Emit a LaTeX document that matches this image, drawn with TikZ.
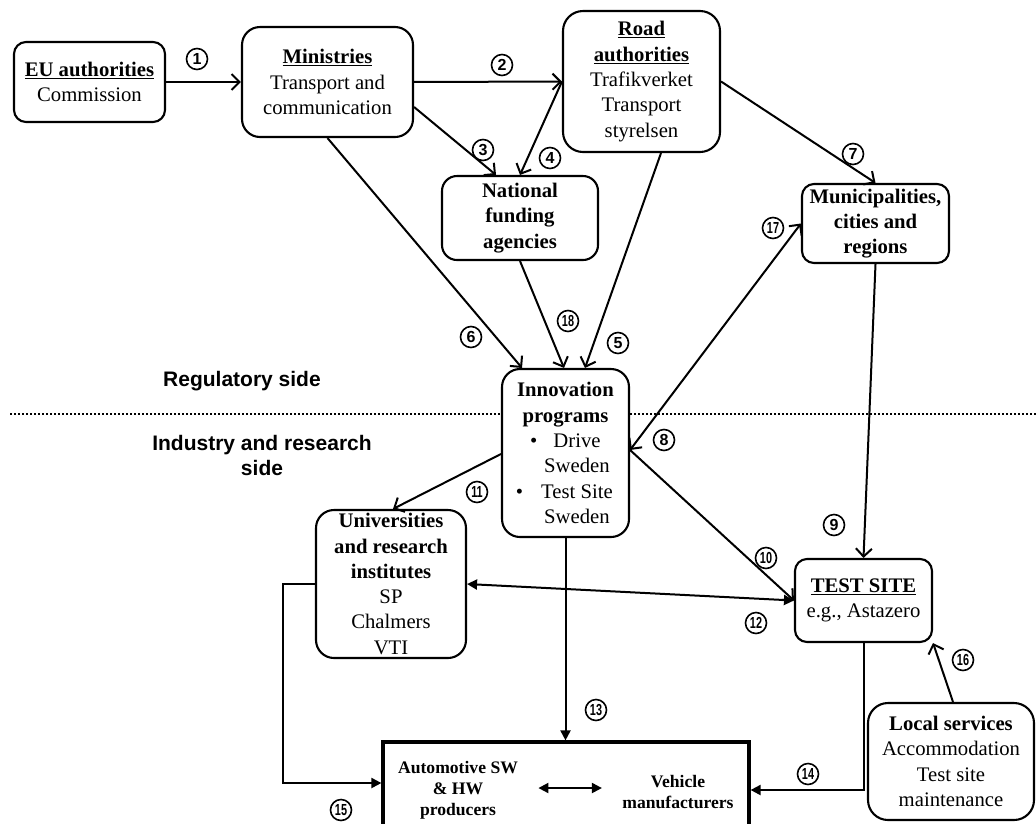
\documentclass[tikz,border=0pt]{standalone}
\usepackage{fontspec}
\usepackage{graphicx}
\setmainfont{Liberation Serif}
\setsansfont{Liberation Sans}
\usetikzlibrary{arrows.meta}
\begin{document}
\begin{tikzpicture}[x=1pt,y=-1pt,
  box/.style={draw, line width=2.1pt, rounded corners=16pt, fill=white, align=center, inner sep=0pt,
    font=\fontsize{20.7}{25.3}\selectfont},
  arr/.style={line width=2pt, -{Straight Barb[length=8pt,width=16pt]}},
  darr/.style={line width=2pt, {Straight Barb[length=8pt,width=16pt]}-{Straight Barb[length=8pt,width=16pt]}},
  farr/.style={line width=2pt, -{Triangle[length=10pt,width=10pt]}},
  dfarr/.style={line width=2pt, {Triangle[length=10pt,width=10pt]}-{Triangle[length=10pt,width=10pt]}},
  num/.style={draw, circle, line width=1.6pt, minimum size=21pt, inner sep=0pt,
    font=\sffamily\bfseries\fontsize{16}{16}\selectfont},
  side/.style={font=\sffamily\bfseries\fontsize{21}{25}\selectfont, align=center},
  small/.style={font=\bfseries\fontsize{17.6}{21}\selectfont, align=center}
]
\useasboundingbox (0,0) rectangle (1036,823);
\clip (0,0) rectangle (1036,823);

% separator
\draw[line width=1.8pt, dash pattern=on 1.6pt off 2.4pt] (10,414) -- (1036,414);
\node[side] (reg) at (242,381) {Regulatory side};
\node[side] (ind) at (262,455) {Industry and research\\side};

% nodes
\node[box, rounded corners=12pt, minimum width=151pt, minimum height=80pt] (eu) at (89.5,82)
  {\textbf{\underline{EU authorities}}\\Commission};
\node[box, rounded corners=18pt, minimum width=171pt, minimum height=110pt] (min) at (327.5,82)
  {\textbf{\underline{Ministries}}\\Transport and\\communication};
\node[box, rounded corners=20pt, minimum width=157pt, minimum height=141pt] (road) at (641.5,81.5)
  {\textbf{\underline{Road}}\\\textbf{\underline{authorities}}\\Trafikverket\\Transport\\styrelsen};
\node[box, rounded corners=15pt, minimum width=156pt, minimum height=84pt] (nf) at (520,218)
  {\textbf{National}\\\textbf{funding}\\\textbf{agencies}};
\node[box, rounded corners=12pt, minimum width=147pt, minimum height=79pt] (mun) at (875.5,223.5)
  {\textbf{Municipalities,}\\\textbf{cities and}\\\textbf{regions}};
\node[box, rounded corners=18pt, minimum width=127pt, minimum height=168pt] (inn) at (565.5,453)
  {\textbf{Innovation}\\\textbf{programs}\\
   \hspace*{23pt}\llap{\textbullet\hspace{16pt}}Drive\\
   \hspace*{23pt}Sweden\\
   \hspace*{23pt}\llap{\textbullet\hspace{18pt}}Test Site\\
   \hspace*{23pt}Sweden};
\node[box, rounded corners=18pt, minimum width=150pt, minimum height=148pt] (uni) at (391,584)
  {\textbf{Universities}\\\textbf{and research}\\\textbf{institutes}\\SP\\Chalmers\\VTI};
\node[box, rounded corners=12pt, minimum width=137pt, minimum height=83pt] (ts) at (863.5,600.5)
  {\textbf{\underline{TEST SITE}}\\e.g., Astazero};
\node[box, rounded corners=20pt, minimum width=166pt, minimum height=117pt] (loc) at (951,761.5)
  {\textbf{Local services}\\Accommodation\\Test site\\maintenance};
\node[draw, line width=3.2pt, fill=white, minimum width=366pt, minimum height=96pt, inner sep=0pt] (bot) at (566,790) {};
\node[small] (auto) at (458,790) {Automotive SW\\\& HW\\producers};
\node[small] (veh) at (678,791.5) {Vehicle\\manufacturers};
\coordinate (aa) at ([xshift=17pt,yshift=2pt]auto.east);
\coordinate (bb) at ([xshift=-17pt]veh.west |- aa);

% connectors
\draw[arr] (eu) -- (min);
\draw[arr] (min) -- (road);
\draw[arr] ([yshift=-25pt]min.east) -- ([xshift=-24pt]nf.north);
\draw[arr] (road.west) -- (nf.north);
\draw[arr] ([xshift=19.5pt]road.south) -- ([xshift=19.5pt]inn.north);
\draw[arr] (min.south) -- ([xshift=-43.5pt]inn.north);
\draw[arr] (nf.south) -- ([xshift=-1.5pt]inn.north);
\draw[arr] (road.east) -- (mun.north);
\draw[darr] (mun.west) -- ([yshift=3pt]inn.east);
\draw[arr] (mun.south) -- (ts.north);
\draw[arr] ([yshift=3pt]inn.east) -- (ts.west);
\draw[arr] ([yshift=-1pt]inn.west) -- ([xshift=2pt]uni.north);
\draw[dfarr] (uni.east) -- (ts.west);
\draw[farr] (inn.south) -- (inn.south |- bot.north);
\draw[farr] (ts.south) |- (bot.east);
\draw[farr] (uni.west) -- ++(-32,0) |- ([yshift=7pt]bot.west);
\draw[arr] ([xshift=2pt]loc.north) -- (ts.south east);
\draw[dfarr] (aa) -- (bb);

% circled numbers
\node[num] (n1) at (197,59) {1};
\node[num] (n2) at (502,65) {2};
\node[num] (n3) at (483,150) {3};
\node[num] (n4) at (550,158) {4};
\node[num] (n5) at (618,343) {5};
\node[num] (n6) at (471,337) {6};
\node[num] (n7) at (853,154) {7};
\node[num] (n8) at (664,440) {8};
\node[num] (n9) at (834,525) {9};
\node[num] (n10) at (766,558) {\scalebox{0.68}[1]{10}};
\node[num] (n11) at (477,492) {\scalebox{0.68}[1]{11}};
\node[num] (n12) at (756,623) {\scalebox{0.68}[1]{12}};
\node[num] (n13) at (596,710) {\scalebox{0.68}[1]{13}};
\node[num] (n14) at (808,774) {\scalebox{0.68}[1]{14}};
\node[num] (n15) at (341,810) {\scalebox{0.68}[1]{15}};
\node[num] (n16) at (963,660) {\scalebox{0.68}[1]{16}};
\node[num] (n17) at (773,228) {\scalebox{0.68}[1]{17}};
\node[num] (n18) at (568,321) {\scalebox{0.68}[1]{18}};
\end{tikzpicture}
\end{document}
